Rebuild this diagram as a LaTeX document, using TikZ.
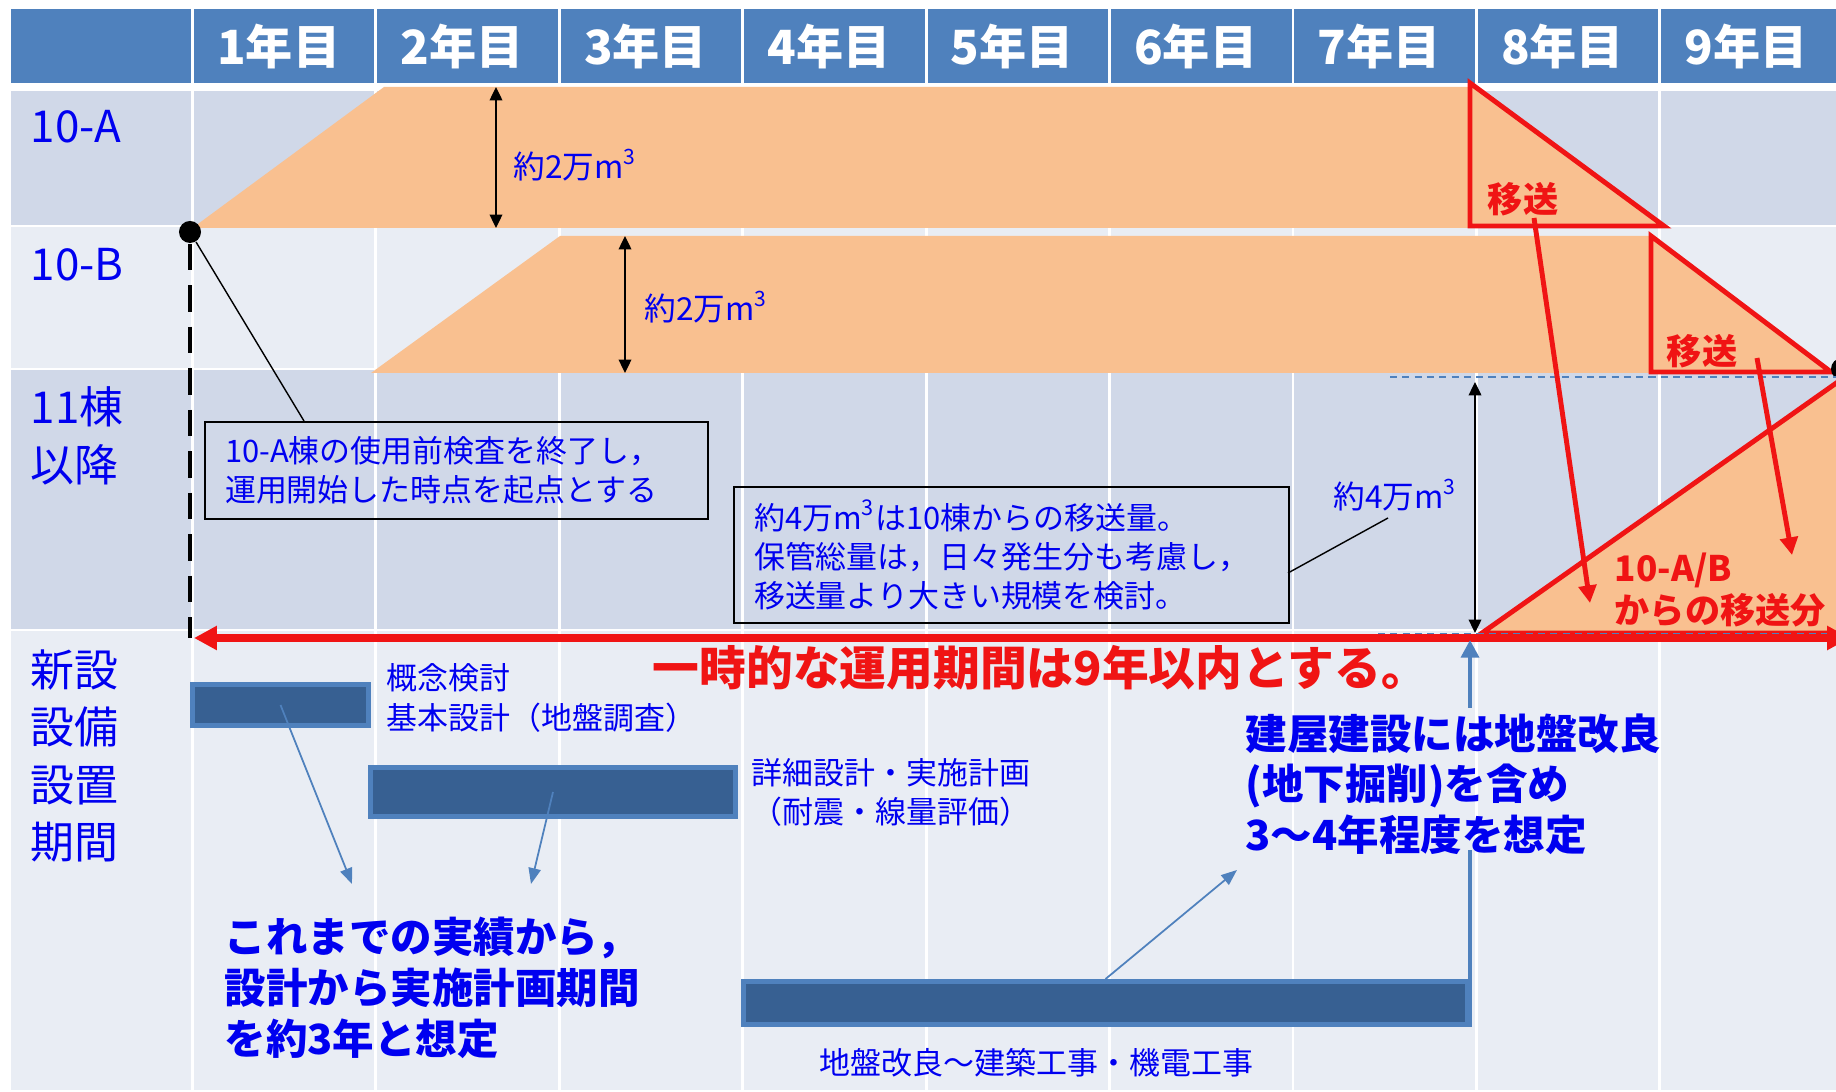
\documentclass[tikz,border=0pt]{standalone}
\usepackage{fontspec}
\setmainfont{Noto Sans CJK JP}
\usetikzlibrary{arrows.meta}

\definecolor{hdblue}{RGB}{79,129,189}
\definecolor{rowdark}{RGB}{208,216,232}
\definecolor{rowlight}{RGB}{233,237,244}
\definecolor{orng}{RGB}{249,192,144}
\definecolor{barblue}{RGB}{55,96,146}
\definecolor{txtblue}{RGB}{0,0,240}
\definecolor{mvred}{RGB}{240,20,20}

\begin{document}
\begin{tikzpicture}[x=0.01cm,y=-0.01cm,
    yrlabel/.style={anchor=west,text=white,font=\fontsize{13.4}{16}\selectfont\bfseries,inner sep=0},
    rowlabel/.style={anchor=west,text=txtblue,font=\fontsize{12.5}{16.3}\selectfont,align=left,inner sep=0},
    vol/.style={anchor=west,text=txtblue,font=\fontsize{9}{11}\selectfont,inner sep=0},
    dim/.style={{Triangle[length=3.8pt,width=3.6pt]}-{Triangle[length=3.8pt,width=3.6pt]},line width=0.4pt},
    note/.style={draw,line width=0.6pt,anchor=north west,align=left,text=txtblue,font=\fontsize{8.8}{11.1}\selectfont,inner xsep=0.2cm,inner ysep=0pt},
    bar/.style={draw=hdblue,fill=barblue,line width=1.4pt,inner sep=0},
    bartext/.style={anchor=west,align=left,text=txtblue,font=\fontsize{8.8}{11.1}\selectfont,inner sep=0},
    memo/.style={anchor=west,align=left,text=txtblue,font=\fontsize{11.8}{14.4}\selectfont\bfseries,inner sep=0},
    ptr/.style={draw=hdblue,line width=0.5pt,-{Triangle[length=4.5pt,width=3.5pt]}},
    mv/.style={text=mvred,font=\fontsize{10}{11.7}\selectfont\bfseries,inner sep=0},
    mvline/.style={draw=mvred,line width=1.4pt},
    ]
\useasboundingbox (0,0) rectangle (1836,1092);
\fill[white] (0,0) rectangle (1836,1092);
% table
\fill[hdblue] (10.6,9) rectangle (1836,83);
\fill[rowdark] (10.6,91) rectangle (1836,226);
\fill[rowlight] (10.6,226) rectangle (1836,369);
\fill[rowdark] (10.6,369) rectangle (1836,630);
\fill[rowlight] (10.6,630) rectangle (1836,1090);
\foreach \y in {226,369,630}
  \draw[white,line width=0.7pt] (10.6,\y) -- (1836,\y);
\foreach \n in {1,...,9}
  \draw[white,line width=0.8pt] ({192.5+183.4*(\n-1)},9) -- ({192.5+183.4*(\n-1)},1090);
\foreach \n in {1,...,9}
  \node[yrlabel] (yr\n) at ({192.5+183.4*(\n-1)+24},47) {{\n}年目};
\node[rowlabel] (r10a) at (30,127) {10-A};
\node[rowlabel] (r10b) at (30,265) {10-B};
\node[rowlabel] (r11) at (30,436) {11棟\\以降};
\node[rowlabel] (rnew) at (30,756) {新設\\設備\\設置\\期間};

% storage
\fill[orng] (192.5,228) -- (384,87) -- (1470,87) -- (1470,228) -- cycle;
\fill[orng] (371,373) -- (560,236) -- (1651,236) -- (1651,373) -- cycle;
\filldraw[fill=orng,mvline] (1470,83) -- (1470,226) -- (1664,226) -- cycle;
\filldraw[fill=orng,mvline] (1651,236) -- (1651,372) -- (1831,372) -- cycle;
\filldraw[fill=orng,mvline] (1482,633) -- (1842,379) -- (1842,633) -- cycle;
\fill[black] (1842,369) circle (11);
\draw[hdblue,line width=0.6pt,dash pattern=on 2pt off 1.5pt] (1390,377) -- (1836,377);
\draw[hdblue,line width=0.6pt,dash pattern=on 2pt off 1.5pt] (1378,634) -- (1836,634);

\coordinate (dA1) at (496,87);   \coordinate (dA2) at (496,228);
\coordinate (dB1) at (625,236);  \coordinate (dB2) at (625,373);
\coordinate (d41) at (1475,382); \coordinate (d42) at (1475,633);
\draw[dim] (dA1) -- (dA2);
\draw[dim] (dB1) -- (dB2);
\draw[dim] (d41) -- (d42);
\node[vol] (vA) at (513,165) {約2万m\textsuperscript{3}};
\node[vol] (vB) at (644,307) {約2万m\textsuperscript{3}};
\node[vol] (v4) at (1333,495) {約4万m\textsuperscript{3}};

% start point
\coordinate (opL) at (194,638);
\coordinate (opR) at (1850,638);
\node[circle,fill=black,inner sep=0,minimum size=0.22cm] (start) at (190,232) {};
\draw[line width=1pt,dash pattern=on 7.5pt off 4.3pt] (start.south) -- (start.south |- opL);
\node[note,text width=4.63cm,minimum height=0.97cm] (box1) at (204,421) {10-A棟の使用前検査を終了し，\\運用開始した時点を起点とする};
\coordinate (b1lead) at (304,421);
\draw[line width=0.4pt] (start) -- (b1lead);
\node[note,text width=5.15cm,minimum height=1.36cm] (box2) at (733,486) {約4万m\textsuperscript{3}は10棟からの移送量。\\保管総量は，日々発生分も考慮し，\\移送量より大きい規模を検討。};
\coordinate (b2from) at (1288,573);
\coordinate (b2lead) at (1388,518);
\draw[line width=0.4pt] (b2from) -- (b2lead);

% transfer
\node[mv] (mvA) at (1523,199) {移送};
\node[mv] (mvB) at (1702,351) {移送};
\node[mv,anchor=west,align=left] (mvAB) at (1614,590) {10-A/B\\からの移送分};
\coordinate (mvAs) at (1534,218); \coordinate (mvAe) at (1590,603);
\coordinate (mvBs) at (1757,358); \coordinate (mvBe) at (1792,555);
\draw[mvline,-{Triangle[length=5pt,width=5pt]}] (mvAs) -- (mvAe);
\draw[mvline,-{Triangle[length=5pt,width=5pt]}] (mvBs) -- (mvBe);

\draw[mvred,line width=2.3pt,{Triangle[length=6.5pt,width=6.5pt]}-{Triangle[length=6.5pt,width=6.5pt]}] (opL) -- (opR);
\node[anchor=west,text=mvred,font=\fontsize{13.3}{15}\selectfont\bfseries,inner sep=0] (limit) at (652,668) {一時的な運用期間は9年以内とする。};

% new facility
\node[bar,minimum width=1.76cm,minimum height=0.41cm] (bar1) at (280.5,705) {};
\node[bar,minimum width=3.65cm,minimum height=0.49cm] (bar2) at (553,792) {};
\node[bar,minimum width=7.24cm,minimum height=0.43cm] (bar3) at (1105.5,1003) {};
\node[bartext] (t1) at (386,698) {概念検討\\基本設計（地盤調査）};
\node[bartext] (t2) at (751,792) {詳細設計・実施計画\\（耐震・線量評価）};
\node[bartext] (t3) at (819,1063) {地盤改良～建築工事・機電工事};
\coordinate (e1) at (352,884);
\coordinate (e2) at (531,884);
\coordinate (e3) at (1237,870);
\draw[ptr] (bar1.center) -- (e1);
\draw[ptr] (bar2.center) -- (e2);
\draw[ptr] (bar3.north) -- (e3);
\coordinate (up0) at (1470,1027);
\coordinate (up2) at (1470,850);
\coordinate (up3) at (1470,708);
\coordinate (up1) at (1470,640);
\draw[hdblue,line width=1.4pt] (up0) -- (up2);
\draw[hdblue,line width=1.4pt,-{Triangle[length=5pt,width=5pt]}] (up3) -- (up1);
\node[memo] (m1) at (224,988) {これまでの実績から，\\設計から実施計画期間\\を約3年と想定};
\node[memo] (m2) at (1245,784) {建屋建設には地盤改良\\(地下掘削)を含め\\3～4年程度を想定};
\end{tikzpicture}
\end{document}
